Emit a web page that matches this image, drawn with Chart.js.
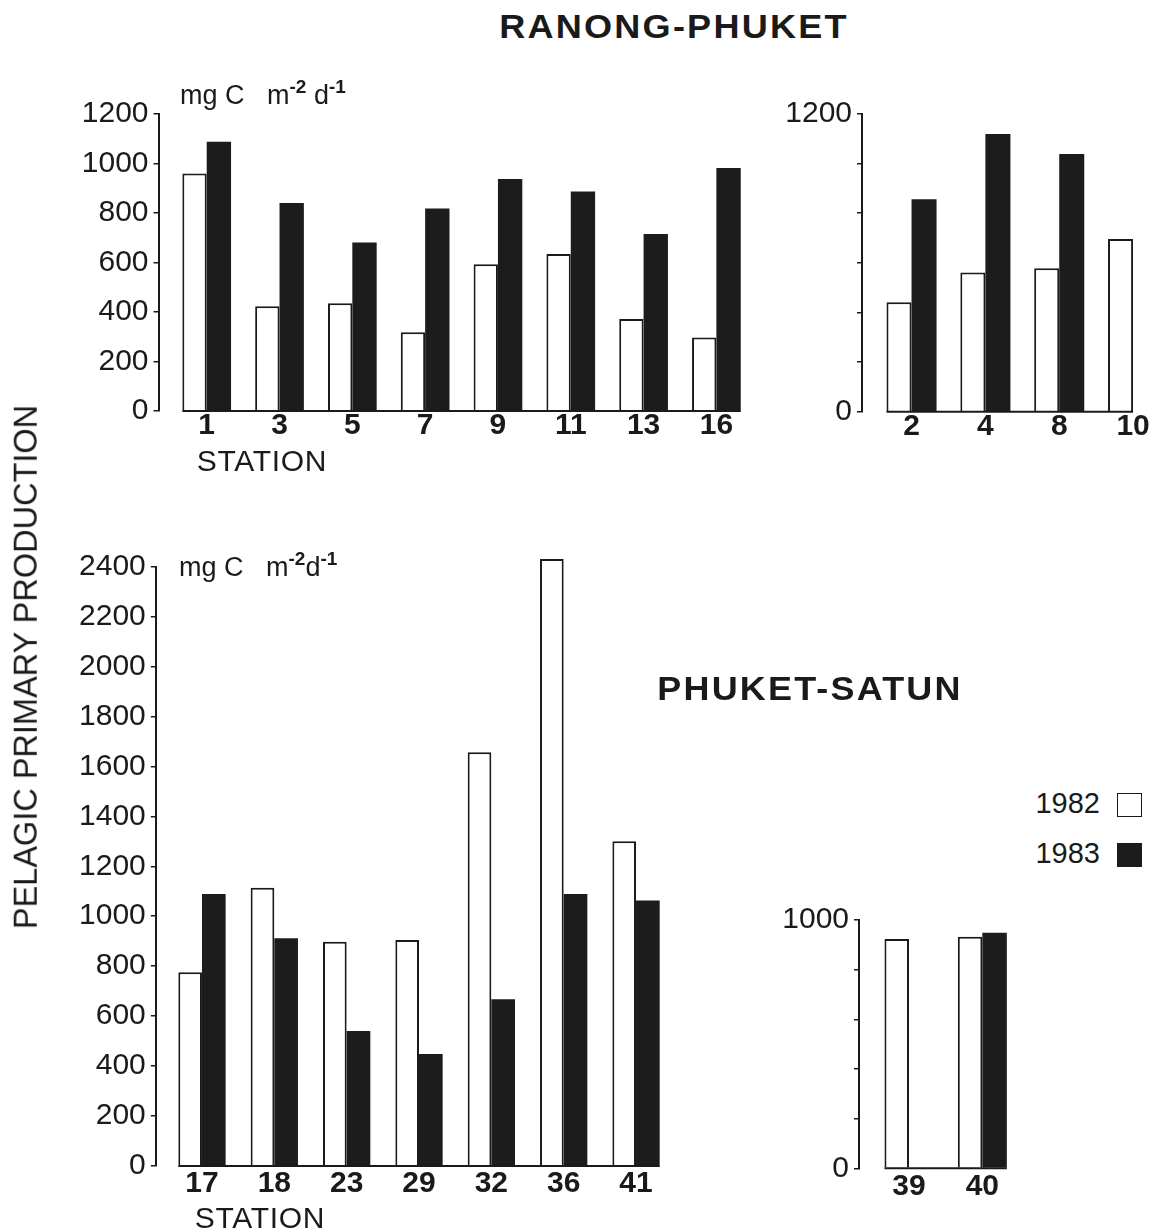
<!DOCTYPE html>
<html><head><meta charset="utf-8">
<script src="https://cdn.jsdelivr.net/npm/chart.js@4.4.1/dist/chart.umd.min.js"></script>
<style>
html,body{margin:0;padding:0;background:#fff;}
#page{position:relative;width:1162px;height:1230px;overflow:hidden;background:#fff;font-family:'Liberation Sans',Arial,sans-serif;color:#1a1a1a;}
canvas{position:absolute;}
.t{position:absolute;white-space:nowrap;line-height:1;}
.sup{font-weight:bold;font-size:19px;position:relative;top:-11px;}
</style></head><body><div id="page">
<canvas id="c1" width="730" height="370" style="left:40px;top:84px;width:730px;height:370px"></canvas>
<canvas id="c2" width="400" height="370" style="left:770px;top:84px;width:400px;height:370px"></canvas>
<canvas id="c3" width="650" height="694" style="left:40px;top:536px;width:650px;height:694px"></canvas>
<canvas id="c4" width="250" height="330" style="left:780px;top:890px;width:250px;height:330px"></canvas>

<div class="t" style="left:673.5px;top:10.8px;font-size:32.5px;font-weight:bold;letter-spacing:2px;transform:translateX(-50%) scaleX(1.11);">RANONG-PHUKET</div>
<div class="t" style="left:810px;top:672.4px;font-size:33px;font-weight:bold;letter-spacing:2px;transform:translateX(-50%) scaleX(1.09);">PHUKET-SATUN</div>
<div class="t" style="left:25.8px;top:667px;font-size:32.5px;transform:translate(-50%,-50%) rotate(-90deg);">PELAGIC PRIMARY PRODUCTION</div>
<div class="t" style="left:180px;top:81.5px;font-size:27px;">mg C&nbsp;&nbsp; m<span class="sup">-2</span> d<span class="sup">-1</span></div>
<div class="t" style="left:179px;top:554px;font-size:27px;">mg C&nbsp;&nbsp; m<span class="sup">-2</span>d<span class="sup">-1</span></div>
<div class="t" style="left:196.7px;top:446px;font-size:30px;letter-spacing:0.7px;">STATION</div>
<div class="t" style="left:194.7px;top:1203px;font-size:30px;letter-spacing:0.7px;">STATION</div>
<div id="leg"></div>
</div>
<script>
// ---- data ----
const stationsA = ['1','3','5','7','9','11','13','16'];
const a1982 = [960, 423, 435, 318, 593, 634, 372, 297];
const a1983 = [1088, 840, 681, 818, 937, 887, 715, 982];

const stationsB = ['2','4','8','10'];
const b1982 = [441, 561, 578, 696];
const b1983 = [856, 1119, 1039, null];

const stationsC = ['17','18','23','29','32','36','41'];
const c1982 = [776, 1114, 898, 905, 1656, 2430, 1300];
const c1983 = [1089, 912, 540, 448, 668, 1089, 1063];

const stationsD = ['39','40'];
const d1982 = [923, 933];
const d1983 = [null, 949];

const seriesNames = ['1982', '1983'];

// ---- styles ----
const INK = '#1a1a1a';
const WHITE = '#ffffff';
const DARK = '#1c1c1c';

Chart.defaults.font.family = "'Liberation Sans', Arial, sans-serif";
Chart.defaults.color = INK;

const baseline = {
  id: 'baseline',
  afterDatasetsDraw(chart) {
    const ctx = chart.ctx;
    const y0 = chart.scales.y.getPixelForValue(0);
    let l = Infinity, r = -Infinity;
    chart.data.datasets.forEach((ds, i) => {
      const meta = chart.getDatasetMeta(i);
      meta.data.forEach((el, j) => {
        if (ds.data[j] == null) return;
        const p = el.getProps(['x', 'width'], true);
        l = Math.min(l, p.x - p.width / 2);
        r = Math.max(r, p.x + p.width / 2);
      });
    });
    ctx.save();
    ctx.strokeStyle = INK;
    ctx.lineWidth = 2;
    ctx.beginPath();
    ctx.moveTo(l, y0);
    ctx.lineTo(r, y0);
    ctx.stroke();
    ctx.restore();
  }
};

function makeChart(id, labels, d82, d83, cfg) {
  return new Chart(document.getElementById(id), {
    type: 'bar',
    data: {
      labels: labels,
      datasets: [
        {label: seriesNames[0], data: d82, backgroundColor: WHITE, borderColor: INK, borderWidth: 2,
         barPercentage: 1, categoryPercentage: cfg.cat, clip: false},
        {label: seriesNames[1], data: d83, backgroundColor: DARK, borderColor: DARK, borderWidth: 0,
         barPercentage: 1, categoryPercentage: cfg.cat, clip: false}
      ]
    },
    options: {
      responsive: false, animation: false, devicePixelRatio: 1,
      layout: {padding: {left: 0, top: cfg.pt, right: cfg.pr, bottom: 0}},
      plugins: {legend: {display: false}, tooltip: {enabled: false}},
      scales: {
        x: {
          grid: {display: false, drawTicks: false},
          border: {display: false},
          ticks: {font: {size: 30, weight: 'bold'}, color: INK, padding: cfg.xpad, maxRotation: 0, autoSkip: false},
          afterFit(s) { s.height = cfg.hx; }
        },
        y: {
          min: 0, max: cfg.max, weight: 2,
          ticks: {stepSize: 200, font: {size: 30}, color: INK, padding: 5, callback: cfg.cb},
          grid: {drawOnChartArea: false, drawTicks: true, tickLength: 5, color: INK, lineWidth: 1.5},
          border: {display: true, color: INK, width: 2},
          afterFit(s) { s.width = cfg.wy; }
        },
        yPad: {
          type: 'linear', position: 'left', weight: 1, display: true,
          ticks: {display: false}, grid: {display: false, drawTicks: false}, border: {display: false},
          afterFit(s) { s.width = cfg.wd; }
        }
      }
    },
    plugins: [baseline]
  });
}

const allLabels = v => String(v);
const endLabels = max => (v => (v === 0 || v === max) ? String(v) : '');

makeChart('c1', stationsA, a1982, a1983, {cat: 0.669, pt: 30, pr: 17.2, hx: 43, wy: 118.5, wd: 11.8, max: 1200, xpad: -3, cb: allLabels});
makeChart('c2', stationsB, b1982, b1983, {cat: 0.678, pt: 30, pr: 0, hx: 42.3, wy: 92, wd: 12.6, max: 1200, xpad: -3, cb: endLabels(1200)});
makeChart('c3', stationsC, c1982, c1983, {cat: 0.654, pt: 30.5, pr: 17.8, hx: 64, wy: 115.8, wd: 10, max: 2400, xpad: 0, cb: allLabels});
makeChart('c4', stationsD, d1982, d1983, {cat: 0.668, pt: 30, pr: 11, hx: 51.7, wy: 79, wd: 13.3, max: 1000, xpad: 0, cb: endLabels(1000)});

// legend
const leg = document.getElementById('leg');
const legTops = [788.9, 839.2];
const legBoxTops = [792.7, 843];
[[WHITE, 1.5], [DARK, 0]].forEach((s, i) => {
  const t = document.createElement('div');
  t.className = 't';
  t.style.cssText = 'right:62px;top:' + legTops[i] + 'px;font-size:29px;';
  t.textContent = seriesNames[i];
  leg.appendChild(t);
  const b = document.createElement('div');
  b.style.cssText = 'position:absolute;left:1117px;top:' + legBoxTops[i] + 'px;width:25px;height:24px;box-sizing:border-box;background:' + s[0] + ';border:1.5px solid ' + (i === 0 ? INK : DARK) + ';';
  leg.appendChild(b);
});
</script>
</body></html>
